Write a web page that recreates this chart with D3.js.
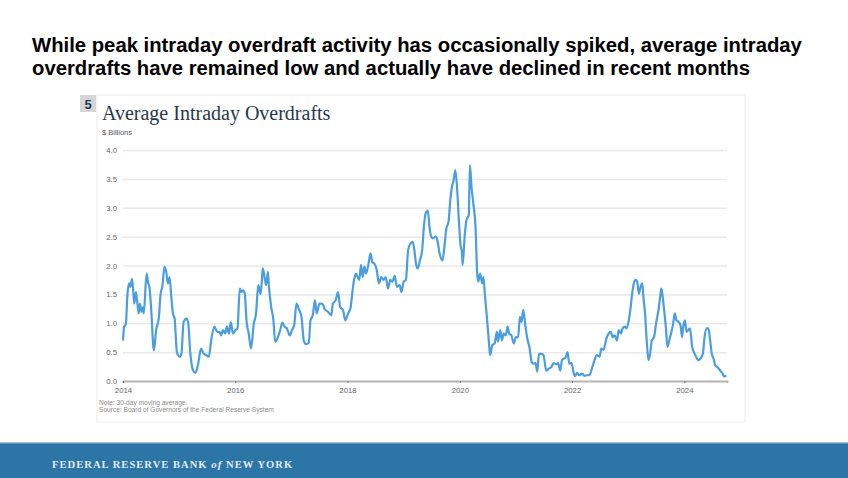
<!DOCTYPE html>
<html><head><meta charset="utf-8">
<script src="https://cdn.jsdelivr.net/npm/d3@7"></script>
<style>html,body{margin:0;padding:0;background:#fff;}svg{display:block;}</style>
</head><body>
<svg id="c" width="848" height="478"></svg>
<script>
// ---- data (decimal years, $ billions, 30-day moving average) ----
const years = [
2014.00,2014.02,2014.05,2014.08,2014.11,2014.13,2014.16,2014.18,2014.20,2014.23,2014.25,2014.28,2014.30,2014.33,2014.36,2014.37,2014.42,2014.45,2014.47,2014.50,
2014.55,2014.59,2014.64,2014.67,2014.70,2014.74,2014.77,2014.80,2014.83,2014.86,2014.89,2014.92,2014.96,2015.01,2015.04,2015.08,2015.13,2015.16,2015.20,2015.25,
2015.29,2015.34,2015.39,2015.44,2015.48,2015.53,2015.57,2015.63,2015.68,2015.72,2015.75,2015.78,2015.82,2015.85,2015.89,2015.92,2015.96,2016.00,2016.04,2016.08,
2016.11,2016.14,2016.17,2016.20,2016.24,2016.28,2016.33,2016.37,2016.41,2016.45,2016.47,2016.49,2016.53,2016.55,2016.58,2016.60,2016.64,2016.68,2016.71,2016.76,
2016.80,2016.84,2016.88,2016.92,2016.97,2017.01,2017.05,2017.09,2017.13,2017.18,2017.22,2017.26,2017.31,2017.34,2017.38,2017.42,2017.45,2017.50,
2017.52,2017.56,2017.59,2017.65,2017.71,2017.74,2017.79,2017.83,2017.87,2017.92,2017.96,2018.01,2018.05,2018.09,2018.12,2018.15,2018.18,2018.21,2018.24,2018.27,
2018.30,2018.33,2018.37,2018.41,2018.44,2018.48,2018.52,2018.56,2018.60,2018.64,2018.68,2018.72,2018.76,2018.80,2018.84,2018.88,2018.93,2018.96,2019.00,2019.04,
2019.08,2019.12,2019.16,2019.19,2019.22,2019.25,2019.29,2019.33,2019.36,2019.39,2019.43,2019.46,2019.49,2019.52,2019.57,2019.60,2019.64,2019.69,2019.72,2019.76,
2019.80,2019.83,2019.86,2019.89,2019.92,2019.95,2019.98,2020.01,2020.04,2020.05,2020.09,2020.12,2020.16,2020.18,2020.21,2020.24,2020.28,2020.31,2020.33,2020.36,
2020.40,2020.42,2020.45,2020.49,2020.52,2020.54,2020.58,2020.62,2020.66,2020.68,2020.72,2020.75,2020.78,2020.82,2020.85,2020.88,2020.92,2020.96,2021.00,2021.04,
2021.07,2021.10,2021.13,2021.17,2021.21,2021.24,
2021.28,2021.31,2021.35,2021.38,2021.41,2021.45,2021.49,2021.54,2021.58,2021.63,2021.67,2021.72,2021.75,2021.79,2021.82,2021.86,2021.89,2021.92,2021.95,2021.99,
2022.02,2022.05,2022.09,2022.13,2022.18,2022.22,2022.26,2022.31,2022.36,2022.40,2022.44,2022.49,2022.52,2022.56,2022.61,2022.65,2022.69,2022.72,2022.76,2022.80,
2022.83,2022.87,2022.90,2022.94,2022.97,2023.01,2023.04,2023.07,2023.10,2023.13,2023.16,2023.19,2023.22,2023.25,2023.27,2023.30,2023.33,2023.36,2023.39,2023.42,
2023.46,2023.50,2023.54,2023.57,2023.59,2023.61,2023.64,2023.67,2023.70,2023.73,2023.77,2023.80,2023.83,2023.86,2023.90,2023.93,2023.96,2023.98,2024.01,2024.04,
2024.07,2024.10,2024.14,2024.17,2024.21,2024.25,2024.29,2024.33,2024.36,2024.40,2024.43,2024.46,2024.49,2024.52,2024.55,2024.59,2024.64,2024.68,2024.71,2024.75
];
const overdrafts = [
0.70,0.94,0.98,1.51,1.69,1.63,1.77,1.60,1.34,1.54,1.40,1.17,1.34,1.20,1.28,1.17,1.86,1.69,1.63,1.28,
0.53,0.88,1.11,1.51,1.63,1.98,1.89,1.69,1.80,1.46,1.17,1.08,0.50,0.42,0.47,1.02,1.08,1.02,0.47,0.18,
0.14,0.30,0.56,0.47,0.45,0.42,0.70,0.94,0.85,0.85,0.79,0.88,0.82,0.94,0.82,1.02,0.82,0.88,0.91,1.60,
1.54,1.57,1.51,1.05,0.82,0.56,0.99,1.17,1.66,1.51,1.69,1.95,1.75,1.66,1.89,1.63,1.28,1.05,0.68,0.76,
0.88,1.01,0.94,0.91,0.79,0.88,0.97,1.34,1.25,1.11,0.70,0.64,0.66,1.05,1.14,1.40,1.17,1.34,
1.34,1.33,1.25,1.20,1.14,1.34,1.40,1.54,1.28,1.23,1.05,1.17,1.25,1.57,1.77,1.86,1.80,1.75,2.01,1.80,
1.98,1.86,2.01,2.21,2.06,2.03,1.92,1.69,1.80,1.75,1.80,1.60,1.75,1.72,1.82,1.63,1.66,1.54,1.72,1.75,
2.27,2.38,2.41,2.27,2.03,1.95,2.09,2.27,2.67,2.90,2.95,2.67,2.50,2.47,2.50,2.44,2.21,2.09,2.27,2.64,
2.76,3.13,3.36,3.48,3.65,3.36,2.84,2.38,2.21,2.01,2.55,2.79,2.87,3.74,3.34,3.08,2.67,1.86,1.72,1.86,
1.69,1.80,1.46,1.02,0.65,0.45,0.62,0.65,0.85,0.68,0.88,0.70,0.82,0.79,0.94,0.82,0.79,0.65,0.76,0.76,
1.11,1.02,1.23,0.94,0.70,0.59,
0.33,0.30,0.31,0.16,0.47,0.47,0.45,0.18,0.21,0.24,0.31,0.29,0.31,0.18,0.36,0.39,0.42,0.50,0.30,0.31,
0.18,0.08,0.14,0.10,0.13,0.09,0.10,0.10,0.24,0.36,0.45,0.42,0.56,0.54,0.73,0.82,0.85,0.76,0.79,0.70,
0.88,0.82,0.91,0.94,0.91,1.05,1.25,1.51,1.69,1.75,1.72,1.51,1.63,1.69,1.46,1.17,0.70,0.36,0.47,0.70,
0.76,1.02,1.23,1.46,1.60,1.49,1.23,0.94,0.59,0.70,0.85,0.99,1.17,1.05,1.02,0.97,0.76,0.94,1.05,0.85,
0.88,0.91,0.59,0.50,0.42,0.36,0.39,0.47,0.76,0.91,0.91,0.70,0.47,0.39,0.27,0.24,0.18,0.13,0.08,0.09
];
const yTicks = [0, 0.5, 1.0, 1.5, 2.0, 2.5, 3.0, 3.5, 4.0];
const xTicks = [2014, 2016, 2018, 2020, 2022, 2024];
const headline = ["While peak intraday overdraft activity has occasionally spiked, average intraday",
                  "overdrafts have remained low and actually have declined in recent months"];
const chartNumber = "5";
const chartTitle = "Average Intraday Overdrafts";
const unitLabel = "$ Billions";
const notes = ["Note: 30-day moving average.", "Source: Board of Governors of the Federal Reserve System"];

// ---- drawing ----
const svg = d3.select("#c");
const W = 848, H = 478;
svg.append("rect").attr("width", W).attr("height", H).attr("fill", "#fff");

// headline
const hl = svg.append("g");
headline.forEach((t, i) => {
  hl.append("text").attr("x", 32).attr("y", 52 + i * 23)
    .attr("font-family", "'Liberation Sans', Arial, sans-serif")
    .attr("font-weight", "bold").attr("font-size", 20.3).attr("fill", "#000")
    .text(t);
});

// panel
svg.append("rect").attr("x", 97).attr("y", 95).attr("width", 648).attr("height", 327)
  .attr("fill", "#fff").attr("stroke", "#ececec").attr("stroke-width", 1);
svg.append("rect").attr("x", 80).attr("y", 95).attr("width", 16).attr("height", 17).attr("fill", "#d6d6d6");
svg.append("text").attr("x", 88).attr("y", 108.5).attr("text-anchor", "middle")
  .attr("font-family", "'Liberation Sans', Arial, sans-serif").attr("font-weight", "bold")
  .attr("font-size", 13).attr("fill", "#1f3a5a").text(chartNumber);
svg.append("text").attr("x", 102).attr("y", 120)
  .attr("font-family", "'Liberation Serif', 'Times New Roman', serif")
  .attr("font-size", 20).attr("fill", "#26384c").text(chartTitle);
svg.append("text").attr("x", 102).attr("y", 134.5)
  .attr("font-family", "'Liberation Sans', Arial, sans-serif")
  .attr("font-size", 7.5).attr("fill", "#555").text(unitLabel);

const x = d3.scaleLinear().domain([2014, 2024.76]).range([123, 727]);
const y = d3.scaleLinear().domain([0, 4]).range([381, 150]);

// gridlines
const yAxis = d3.axisLeft(y).tickValues(yTicks).tickFormat(d3.format(".1f")).tickSize(-(727 - 123)).tickPadding(6);
const gy = svg.append("g").attr("transform", "translate(123,0)").call(yAxis);
gy.select(".domain").remove();
gy.selectAll(".tick line").attr("stroke", "#e9e9e9").attr("stroke-width", 1.5);
gy.selectAll(".tick text").attr("font-family", "'Liberation Sans', Arial, sans-serif")
  .attr("font-size", 7.8).attr("fill", "#666");
gy.selectAll(".tick").filter(d => d === 0).select("line").remove();

// x axis
const xAxis = d3.axisBottom(x).tickValues(xTicks).tickFormat(d3.format("d")).tickSize(2).tickPadding(4);
const gx = svg.append("g").attr("transform", "translate(0,381)").call(xAxis);
gx.select(".domain").attr("stroke", "#b4b4b4").attr("stroke-width", 2);
gx.selectAll(".tick line").attr("stroke", "#777").attr("stroke-width", 1);
gx.selectAll(".tick text").attr("font-family", "'Liberation Sans', Arial, sans-serif")
  .attr("font-size", 7.8).attr("fill", "#666");

// line
const data = years.map((yr, i) => [yr, overdrafts[i]]);
const line = d3.line().x(d => x(d[0])).y(d => y(d[1])).curve(d3.curveMonotoneX);
svg.append("path").datum(data).attr("d", line)
  .attr("fill", "none").attr("stroke", "#4a9ee0").attr("stroke-width", 2.2)
  .attr("stroke-linejoin", "round");

// notes
notes.forEach((t, i) => {
  svg.append("text").attr("x", 99).attr("y", 405 + i * 7)
    .attr("font-family", "'Liberation Sans', Arial, sans-serif")
    .attr("font-size", 6.6).attr("fill", "#8a8a8a").text(t);
});

// footer
svg.append("rect").attr("x", 0).attr("y", 442).attr("width", W).attr("height", 36).attr("fill", "#2c75a7");
svg.append("rect").attr("x", 0).attr("y", 442).attr("width", W).attr("height", 1.5).attr("fill", "#9bbcd6");
const ft = svg.append("text").attr("x", 52).attr("y", 467.5)
  .attr("font-family", "'Liberation Serif', 'Times New Roman', serif")
  .attr("font-size", 10.6).attr("font-weight", "bold").attr("fill", "#e3ebf2").attr("letter-spacing", 1.0);
ft.append("tspan").text("FEDERAL RESERVE BANK ");
ft.append("tspan").attr("font-style", "italic").attr("font-size", 11).text("of");
ft.append("tspan").text(" NEW YORK");
</script>
</body></html>
